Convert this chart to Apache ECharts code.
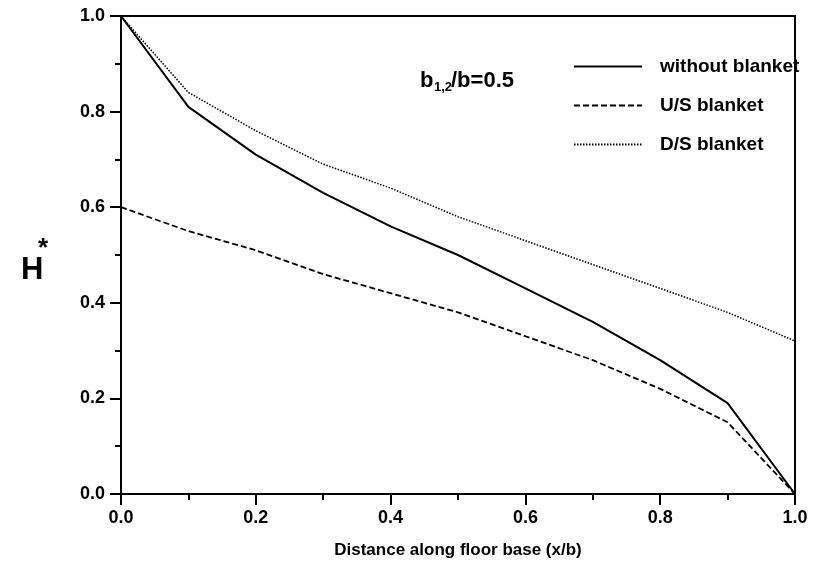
<!DOCTYPE html>
<html>
<head>
<meta charset="utf-8">
<script src="https://cdn.jsdelivr.net/npm/echarts@6/dist/echarts.min.js"></script>
<style>
  html, body { margin: 0; padding: 0; background: #fff; }
  #chart { width: 838px; height: 571px; }
</style>
</head>
<body>
<div id="chart"></div>
<script>
// x positions along the floor base (x/b)
const xValues = [0.0, 0.1, 0.2, 0.3, 0.4, 0.5, 0.6, 0.7, 0.8, 0.9, 1.0];
// H* values
const withoutBlanket = [1.0, 0.81, 0.71, 0.63, 0.56, 0.50, 0.43, 0.36, 0.28, 0.19, 0.0];
const usBlanket = [0.60, 0.55, 0.51, 0.46, 0.42, 0.38, 0.33, 0.28, 0.22, 0.15, 0.0];
const dsBlanket = [1.0, 0.84, 0.76, 0.69, 0.64, 0.58, 0.53, 0.48, 0.43, 0.38, 0.32];
const seriesNames = ['without blanket', 'U/S blanket', 'D/S blanket'];

const font = 'Liberation Sans, Arial, sans-serif';

function pairs(ys) {
    return xValues.map((x, i) => [x, ys[i]]);
}

eshipChart();

function eshipChart() {
    let myChart = echarts.init(document.getElementById('chart'));

    let axisCommon = {
        type: 'value',
        min: 0,
        max: 1,
        interval: 0.2,
        axisLine: { show: true, lineStyle: { color: '#000', width: 2 } },
        axisTick: { show: true, inside: false, length: 11, lineStyle: { color: '#000', width: 2 } },
        minorTick: { show: true, splitNumber: 2, length: 6, lineStyle: { color: '#000', width: 2 } },
        splitLine: { show: false },
        axisLabel: {
            color: '#000', fontFamily: font, fontWeight: 'bold', fontSize: 18,
            formatter: v => v.toFixed(1)
        }
    };

    let option = {
        animation: false,
        grid: {
            left: 121, right: 43, top: 16, bottom: 77,
            show: true, borderColor: '#000', borderWidth: 2
        },
        legend: {
            data: seriesNames,
            orient: 'vertical',
            left: 568,
            top: 52,
            itemWidth: 68,
            itemHeight: 14,
            itemGap: 20,
            itemStyle: { opacity: 0 },
            textStyle: {
                color: '#000', fontFamily: font, fontWeight: 'bold', fontSize: 19,
                lineHeight: 19, padding: [0, 0, 0, 13]
            }
        },
        xAxis: Object.assign({}, axisCommon, {
            name: 'Distance along floor base (x/b)',
            nameLocation: 'middle',
            nameGap: 48,
            nameTextStyle: { color: '#000', fontFamily: font, fontWeight: 'bold', fontSize: 17 },
            axisLabel: Object.assign({}, axisCommon.axisLabel, { margin: 15 })
        }),
        yAxis: Object.assign({}, axisCommon, {
            axisLabel: Object.assign({}, axisCommon.axisLabel, { margin: 16 })
        }),
        graphic: [
            {
                type: 'text', x: 21, y: 270,
                style: { text: 'H', font: 'bold 31px ' + font, fill: '#000', verticalAlign: 'middle' }
            },
            {
                type: 'text', x: 38, y: 249,
                style: { text: '*', font: 'bold 26px ' + font, fill: '#000', verticalAlign: 'middle' }
            },
            {
                type: 'text', x: 420, y: 81,
                style: { text: 'b', font: 'bold 22px ' + font, fill: '#000', verticalAlign: 'middle' }
            },
            {
                type: 'text', x: 434, y: 87,
                style: { text: '1,2', font: 'bold 13px ' + font, fill: '#000', verticalAlign: 'middle' }
            },
            {
                type: 'text', x: 451, y: 81,
                style: { text: '/b=0.5', font: 'bold 22px ' + font, fill: '#000', verticalAlign: 'middle' }
            }
        ],
        series: [
            {
                name: seriesNames[0], type: 'line', data: pairs(withoutBlanket),
                showSymbol: false, symbol: 'none',
                lineStyle: { color: '#000', width: 2, type: 'solid' },
                itemStyle: { color: '#000' }
            },
            {
                name: seriesNames[1], type: 'line', data: pairs(usBlanket),
                showSymbol: false, symbol: 'none',
                lineStyle: { color: '#000', width: 1.8, type: [6, 3] },
                itemStyle: { color: '#000' }
            },
            {
                name: seriesNames[2], type: 'line', data: pairs(dsBlanket),
                showSymbol: false, symbol: 'none',
                lineStyle: { color: '#000', width: 1.5, type: [1.5, 1.5] },
                itemStyle: { color: '#000' }
            }
        ]
    };

    myChart.setOption(option);
}
</script>
</body>
</html>
